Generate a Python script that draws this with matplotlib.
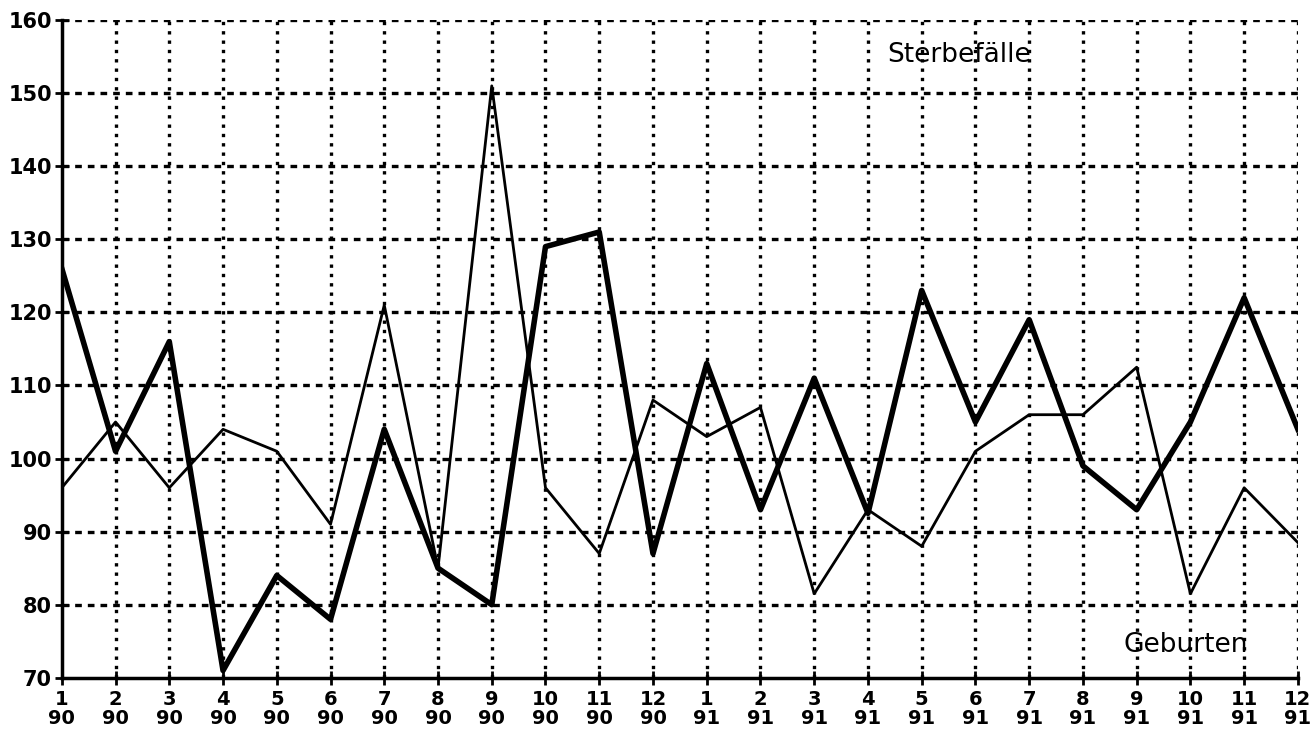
import matplotlib.pyplot as plt

months = ['1', '2', '3', '4', '5', '6', '7', '8', '9', '10', '11', '12'] * 2
years = ['90'] * 12 + ['91'] * 12
tick_labels = [m + '\n' + y for m, y in zip(months, years)]

# thick line
thick = [126, 101, 116, 71, 84, 78, 104, 85, 80, 129, 131, 87,
         113, 93, 111, 92.5, 123, 105, 119, 99, 93, 105, 122, 104]
# thin line
thin = [96, 105, 96, 104, 101, 91, 121, 85, 151, 96, 87, 108,
        103, 107, 81.5, 93, 88, 101, 106, 106, 112.5, 81.5, 96, 88.5]

x = list(range(1, 25))

fig = plt.figure(figsize=(13.15, 7.44), dpi=100)
ax = fig.add_axes([0.047, 0.089, 0.94, 0.884])

for v in range(2, 25):
    ax.axvline(v, color='black', linestyle=(0, (1.0, 1.8)), linewidth=2.4, zorder=1)
for h in range(80, 161, 10):
    ax.axhline(h, color='black', linestyle=(0, (2.0, 1.8)), linewidth=2.4, zorder=1)

ax.plot(x, thin, color='black', linewidth=2.0, zorder=3)
ax.plot(x, thick, color='black', linewidth=4.0, zorder=3)

ax.text(16.35, 155.2, 'Sterbefälle', fontsize=19, va='center', ha='left', zorder=4)
ax.text(20.75, 74.5, 'Geburten', fontsize=19, va='center', ha='left', zorder=4)

ax.set_xlim(1, 24)
ax.set_ylim(70, 160)
ax.set_xticks(x)
ax.set_xticklabels(tick_labels, fontsize=14, fontweight='bold', linespacing=1.0)
ax.set_yticks(range(70, 161, 10))
ax.set_yticklabels([str(v) for v in range(70, 161, 10)], fontsize=15, fontweight='bold')
ax.tick_params(axis='both', direction='inout', length=10, width=2, color='black')
ax.tick_params(axis='x', pad=4)
ax.tick_params(axis='y', pad=2)

for side in ['top', 'right']:
    ax.spines[side].set_visible(False)
ax.spines['left'].set_linewidth(2.5)
ax.spines['bottom'].set_linewidth(2.5)

fig.savefig('out.png', dpi=100)
